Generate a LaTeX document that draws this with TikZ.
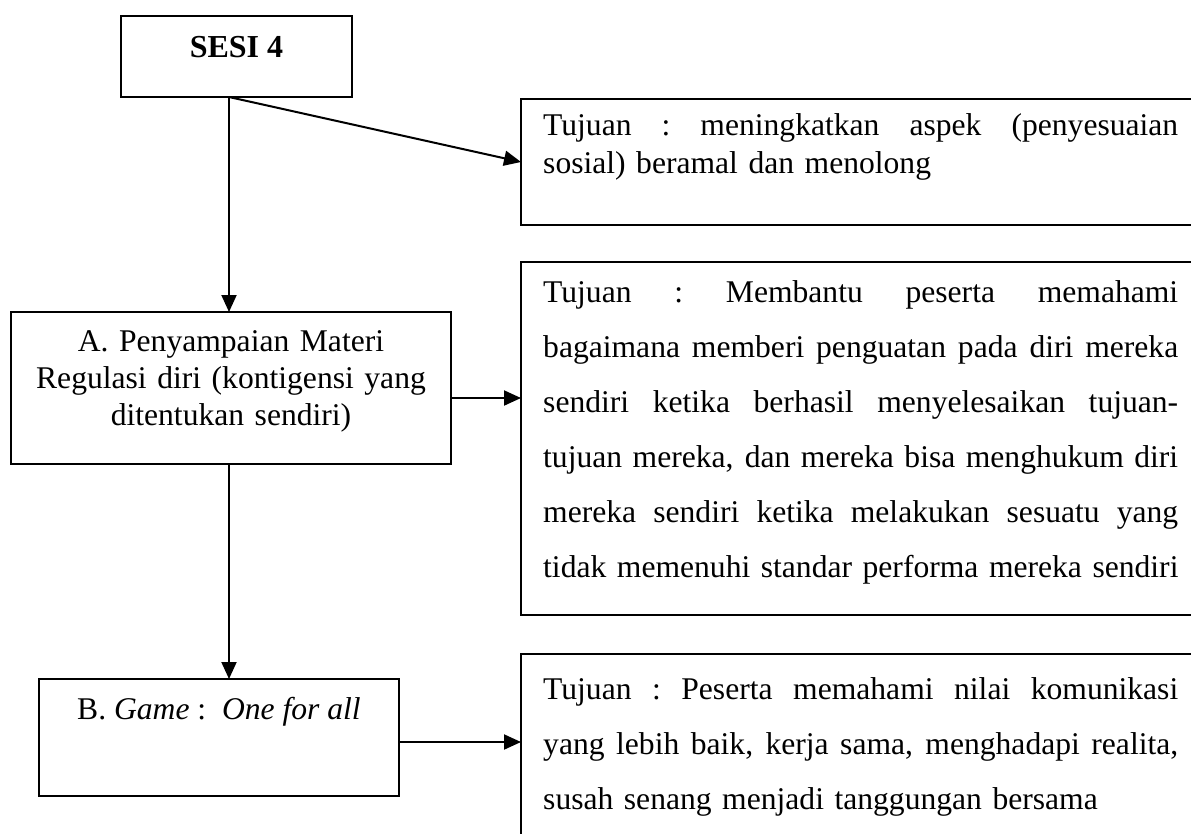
\documentclass[tikz,border=0pt]{standalone}
\usepackage{fontspec}
\setmainfont{Liberation Serif}
\usetikzlibrary{arrows.meta,calc}
% width of the text in the right-hand boxes
\newlength\goalwd
\setlength\goalwd{635pt}
% one line spread to the full text width
\newcommand\jline[1]{\leavevmode\hbox to\goalwd{\spaceskip=.25em plus 1fil\xspaceskip=.25em plus 1fil\relax #1}}
% closing line of a paragraph, set at its natural width
\newcommand\lastline[1]{\leavevmode\hbox{#1}}
\begin{document}
\begin{tikzpicture}[x=1pt,y=-1pt,
  frame/.style={draw,line width=2pt,inner sep=0pt,outer sep=0pt,anchor=north west},
  link/.style={line width=2pt,-{Triangle[length=17pt,width=15pt]}},
  body/.style={inner sep=0pt,anchor=base west,text width=\goalwd},
  centred/.style={inner sep=0pt,anchor=base,align=center,font=\fontsize{31.6}{37}\selectfont}]
\useasboundingbox (0,0) rectangle (1191,833);
\clip (0,0) rectangle (1191,833);

% left column
\node[frame,minimum width=231pt,minimum height=81pt]  (sesi) at (121,16)  {};
\node[frame,minimum width=440pt,minimum height=152pt] (a)    at (11,312)  {};
\node[frame,minimum width=360pt,minimum height=117pt] (b)    at (39,679)  {};

% right column (running past the page edge)
\node[frame,minimum width=700pt,minimum height=126pt] (goal1) at (521,99)  {};
\node[frame,minimum width=700pt,minimum height=353pt] (goal2) at (521,262) {};
\node[frame,minimum width=700pt,minimum height=200pt] (goal3) at (521,654) {};

% texts
\node[inner sep=0pt,anchor=base,font=\fontsize{32}{40}\selectfont\bfseries] (sesi-t) at (236.5,57) {SESI 4};
\node[centred,text width=440pt] (a-t) at (231,351)
  {A. Penyampaian Materi\\Regulasi diri (kontigensi yang\\ditentukan sendiri)};
\node[centred] (b-t) at (219,719) {B. \textit{Game} :\ \ \textit{One for all}};

\node[body,font=\fontsize{31.6}{38}\selectfont] (goal1-t) at (543,135)
  {\jline{Tujuan : meningkatkan aspek (penyesuaian}\\
   \lastline{sosial) beramal dan menolong}};
\node[body,font=\fontsize{31.6}{55}\selectfont] (goal2-t) at (543,302)
  {\jline{Tujuan : Membantu peserta memahami}\\
   \jline{bagaimana memberi penguatan pada diri mereka}\\
   \jline{sendiri ketika berhasil menyelesaikan tujuan-}\\
   \jline{tujuan mereka, dan mereka bisa menghukum diri}\\
   \jline{mereka sendiri ketika melakukan sesuatu yang}\\
   \lastline{tidak memenuhi standar performa mereka sendiri}};
\node[body,font=\fontsize{31.6}{55}\selectfont] (goal3-t) at (543,699)
  {\jline{Tujuan : Peserta memahami nilai komunikasi}\\
   \jline{yang lebih baik, kerja sama, menghadapi realita,}\\
   \lastline{susah senang menjadi tanggungan bersama}};

% connectors
\coordinate (spine) at (229,0);
\coordinate (aout) at ($(a.east)+(0,10)$);
\coordinate (bout) at ($(b.east)+(0,4.5)$);
\draw[link] (sesi.south -| spine) -- (goal1.west);
\draw[link] (sesi.south -| spine) -- (a.north -| spine);
\draw[link] (a.south -| spine) -- (b.north -| spine);
\draw[link] (aout) -- (aout -| goal2.west);
\draw[link] (bout) -- (bout -| goal3.west);
\end{tikzpicture}
\end{document}
